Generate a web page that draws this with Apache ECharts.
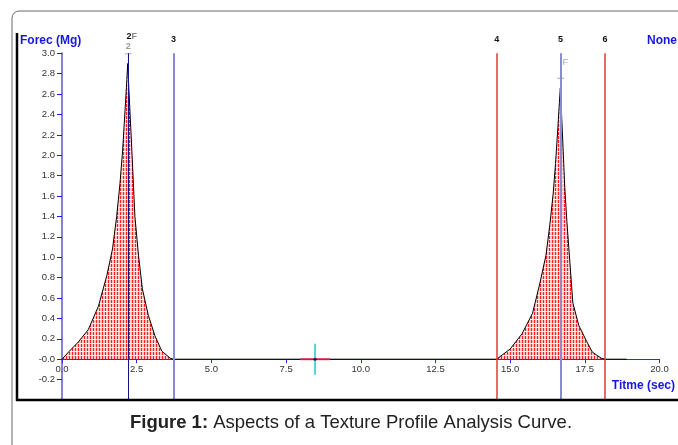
<!DOCTYPE html>
<html>
<head>
<meta charset="utf-8">
<script src="https://cdn.jsdelivr.net/npm/echarts@6/dist/echarts.min.js"></script>
<style>
    html, body { margin: 0; padding: 0; background: #fff; }
    #chart { width: 678px; height: 445px; }
</style>
</head>
<body>
<div id="chart"></div>
<script>
// force curve (two compression peaks)
let timeSec = [0, 0.25, 0.55, 0.88, 1.22, 1.50, 1.69, 1.83, 1.94, 2.03, 2.11, 2.17, 2.20,
    2.24, 2.31, 2.39, 2.44, 2.56, 2.69, 2.89, 3.11, 3.34, 3.62, 3.73,
    14.55, 15.0, 15.4, 15.75, 16.0, 16.2, 16.33, 16.44, 16.52, 16.6, 16.65, 16.68,
    16.70, 16.76, 16.83, 16.9, 17.0, 17.1, 17.3, 17.57, 17.75, 18.05, 18.18, 18.9]
let forceMg = [0, 0.08, 0.17, 0.29, 0.52, 0.82, 1.08, 1.40, 1.72, 2.05, 2.44, 2.74, 2.90,
    2.64, 2.22, 1.72, 1.40, 1.02, 0.69, 0.43, 0.23, 0.08, 0.01, 0,
    0, 0.10, 0.25, 0.45, 0.75, 1.02, 1.32, 1.62, 1.92, 2.28, 2.52, 2.66,
    2.55, 2.15, 1.68, 1.35, 0.95, 0.55, 0.33, 0.17, 0.07, 0.01, 0, 0]

// anchor lines
let markerTimes = [2.22, 3.73, 14.55, 16.69, 18.18]
let markerNames = ['2', '3', '4', '5', '6']
let markerColors = ['#12128c', '#8a8ad2', '#e03a3a', '#8a8ad2', '#e03a3a']
let markerWidths = [1, 2, 1.5, 2, 1.5]

// peak flags (gray T markers) and the gray F of peak 5
let flagTimes = [2.22, 16.69]
let flagForces = [3.0, 2.76]
let fTime = 16.69
let fForce = 2.91

let cursorTime = 8.47

let xMin = 0, xMax = 20, xStep = 2.5
let yMin = -0.4, yMax = 3.0, yStep = 0.2

let gridTop = 53.3, gridBottom = 45
let plotHeight = 445 - gridTop - gridBottom

function hatch() {
    let c = document.createElement('canvas')
    c.width = 3
    c.height = 4
    let g = c.getContext('2d')
    g.fillStyle = '#ffc4c4'
    g.fillRect(1, 0, 2, 3)
    g.fillStyle = '#ff1c1c'
    g.fillRect(0, 0, 1, 3)
    return c
}

let curve = timeSec.map(function (t, i) { return [t, forceMg[i]] })

let markers = markerTimes.map(function (t, i) {
    let item = {
        xAxis: t,
        lineStyle: { color: markerColors[i], width: markerWidths[i], type: 'solid' },
        label: {
            show: true,
            position: 'end',
            distance: 9,
            formatter: markerNames[i],
            color: '#111',
            fontSize: 9,
            fontWeight: 'bold',
            fontFamily: 'Liberation Sans, Arial'
        }
    }
    if (i === 0) {
        item.label.distance = 2
        item.label.formatter = '{p|}{k|2}{g|F}\n{h|2}'
        item.label.rich = {
            p: { width: 7 },
            k: { color: '#111', fontSize: 9, fontWeight: 'bold', lineHeight: 10 },
            g: { color: '#888', fontSize: 9, lineHeight: 10 },
            h: { color: '#999', fontSize: 9, lineHeight: 10 }
        }
    }
    return item
})

let chart = echarts.init(document.getElementById('chart'))
chart.setOption({
    animation: false,
    grid: { left: 62, right: 18.5, top: gridTop, bottom: gridBottom },
    xAxis: {
        type: 'value',
        position: 'bottom',
        // lift the time axis up to force = 0
        offset: -plotHeight * (0 - yMin) / (yMax - yMin),
        min: xMin, max: xMax, interval: xStep,
        axisLine: { onZero: false, lineStyle: { color: '#2a2aff', width: 1 } },
        axisTick: { show: true, length: 4, lineStyle: { color: '#2a2aff' } },
        axisLabel: {
            margin: 5, fontSize: 9.5, color: '#333', fontFamily: 'Liberation Sans, Arial',
            formatter: function (v) { return v.toFixed(1) }
        },
        splitLine: { show: false }
    },
    yAxis: {
        type: 'value',
        min: yMin, max: yMax, interval: yStep,
        axisLine: { show: true, onZero: false, lineStyle: { color: '#8484d0', width: 2 } },
        axisTick: { show: true, length: 5, lineStyle: { color: '#1c1cf0', width: 1 } },
        axisLabel: {
            margin: 7, fontSize: 9.5, color: '#333', fontFamily: 'Liberation Sans, Arial',
            formatter: function (v) {
                if (v < -0.3) return ''
                if (Math.abs(v) < 1e-9) return '-0.0'
                return v.toFixed(1)
            }
        },
        splitLine: { show: false }
    },
    series: [
        {
            name: 'force',
            type: 'line',
            data: curve,
            showSymbol: false,
            lineStyle: { color: '#000', width: 1 },
            areaStyle: { color: { image: hatch(), repeat: 'repeat' }, opacity: 1 },
            z: 3,
            markLine: {
                silent: true,
                symbol: 'none',
                animation: false,
                data: markers
            }
        },
        {
            name: 'flags',
            type: 'scatter',
            data: flagTimes.map(function (t, i) { return [t, flagForces[i]] }),
            symbol: 'path://M0,0h8v1H0z M3.5,1h1v11h-1z',
            symbolSize: [7, 12],
            symbolOffset: [0, 6],
            itemStyle: { color: '#9a9a9a' },
            z: 4
        },
        {
            name: 'F',
            type: 'scatter',
            data: [[fTime, fForce]],
            symbolSize: 0,
            label: {
                show: true, formatter: 'F', position: 'right', distance: 2,
                color: '#999', fontSize: 9.5, fontFamily: 'Liberation Sans, Arial'
            },
            z: 4
        },
        {
            name: 'cursorH',
            type: 'scatter',
            data: [[cursorTime, 0]],
            symbol: 'rect',
            symbolSize: [30, 2],
            itemStyle: { color: '#f4204c' },
            z: 5
        },
        {
            name: 'cursorV',
            type: 'scatter',
            data: [[cursorTime, 0]],
            symbol: 'rect',
            symbolSize: [2, 31],
            itemStyle: { color: '#2ec8d0' },
            z: 6
        },
        {
            name: 'cursorDot',
            type: 'scatter',
            data: [[cursorTime, 0]],
            symbolSize: 3,
            itemStyle: { color: '#000' },
            z: 7
        }
    ],
    graphic: [
        {
            type: 'rect', z: 100,
            shape: { x: 12, y: 11, width: 720, height: 500, r: 7 },
            style: { fill: 'none', stroke: '#6a6a6a', lineWidth: 1 }
        },
        {
            type: 'line', z: 100,
            shape: { x1: 17, y1: 33, x2: 17, y2: 401 },
            style: { stroke: '#000', lineWidth: 2.5 }
        },
        {
            type: 'line', z: 100,
            shape: { x1: 16, y1: 400, x2: 678, y2: 400 },
            style: { stroke: '#000', lineWidth: 2.5 }
        },
        {
            type: 'text', z: 100, x: 20, y: 41,
            style: { text: 'Forec (Mg)', fill: '#1616e8', font: 'bold 12px Liberation Sans, Arial', align: 'left', verticalAlign: 'middle' }
        },
        {
            type: 'text', z: 100, x: 677, y: 41,
            style: { text: 'None', fill: '#1616e8', font: 'bold 12px Liberation Sans, Arial', align: 'right', verticalAlign: 'middle' }
        },
        {
            type: 'text', z: 100, x: 675, y: 386,
            style: { text: 'Titme (sec)', fill: '#1616e8', font: 'bold 12px Liberation Sans, Arial', align: 'right', verticalAlign: 'middle' }
        },
        {
            type: 'text', z: 100, x: 351, y: 423,
            style: {
                text: '{b|Figure 1:} Aspects of a Texture Profile Analysis Curve.',
                fill: '#222', font: '18.5px Liberation Sans, Arial',
                align: 'center', verticalAlign: 'middle',
                rich: {
                    b: { fontWeight: 'bold', fontSize: 18.5, fontFamily: 'Liberation Sans, Arial', fill: '#222' }
                }
            }
        }
    ]
})
</script>
</body>
</html>
